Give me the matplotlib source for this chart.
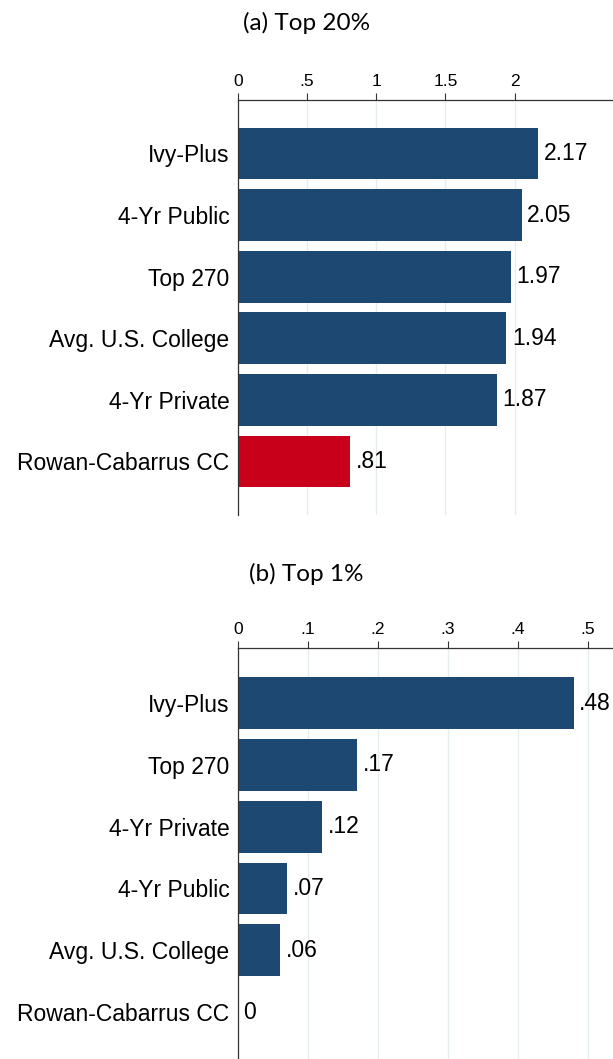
import matplotlib

matplotlib.use("Agg")
import matplotlib.pyplot as plt

# Panel (a): share reaching top 20%
cats_top20 = ["Ivy-Plus", "4-Yr Public", "Top 270", "Avg. U.S. College",
              "4-Yr Private", "Rowan-Cabarrus CC"]
vals_top20 = [2.17, 2.05, 1.97, 1.94, 1.87, 0.81]
ticks_top20 = [0, 0.5, 1, 1.5, 2]

# Panel (b): share reaching top 1%
cats_top1 = ["Ivy-Plus", "Top 270", "4-Yr Private", "4-Yr Public",
             "Avg. U.S. College", "Rowan-Cabarrus CC"]
vals_top1 = [0.48, 0.17, 0.12, 0.07, 0.06, 0.0]
ticks_top1 = [0, 0.1, 0.2, 0.3, 0.4, 0.5]

NAVY = "#1D4871"
RED = "#C80019"
GRID = "#E6EDF1"

plt.rcParams["font.family"] = ["Liberation Sans", "DejaVu Sans"]


def stata_fmt(v):
    """Formato estilo Stata: sin cero inicial (.81, 0)."""
    if v == 0:
        return "0"
    s = f"{v:.2f}".rstrip("0").rstrip(".")
    return s[1:] if s.startswith("0.") else s


def panel(ax, cats, vals, ticks, xmax, highlight):
    y = list(range(len(cats)))
    colors = [RED if c == highlight and v > 0 else NAVY for c, v in zip(cats, vals)]
    ax.barh(y, vals, height=0.84, color=colors, zorder=2)
    for yi, v in zip(y, vals):
        ax.annotate(stata_fmt(v), (v, yi), xytext=(4, 0), textcoords="offset points",
                    va="center", ha="left", fontsize=16.5)
    ax.set_yticks(y)
    ax.set_yticklabels(cats, fontsize=16.5)
    ax.tick_params(axis="y", length=0, pad=6)
    ax.set_xlim(0, xmax)
    ax.xaxis.tick_top()
    ax.set_xticks(ticks)
    ax.set_xticklabels([stata_fmt(t) for t in ticks], fontsize=12.5)
    ax.tick_params(axis="x", direction="out", length=5, width=0.8, pad=3,
                   color="#333333")
    ax.grid(axis="x", color=GRID, lw=1, zorder=0)
    for s in ("right", "bottom"):
        ax.spines[s].set_visible(False)
    for s in ("top", "left"):
        ax.spines[s].set_color("#333333")
        ax.spines[s].set_linewidth(0.9)


fig = plt.figure(figsize=(6.13, 10.59), dpi=100)

ax1 = fig.add_axes([0.388, 0.5137, 0.612, 0.392])
panel(ax1, cats_top20, vals_top20, ticks_top20, 2.71, "Rowan-Cabarrus CC")
ax1.set_ylim(5.87, -0.87)

ax2 = fig.add_axes([0.388, 0.0, 0.612, 0.388])
panel(ax2, cats_top1, vals_top1, ticks_top1, 0.536, "Rowan-Cabarrus CC")
ax2.set_ylim(5.76, -0.89)

fig.text(0.5, 0.978, "(a) Top 20%", ha="center", va="center", fontsize=17.5,
         family=["Lato", "DejaVu Sans"])
fig.text(0.5, 0.458, "(b) Top 1%", ha="center", va="center", fontsize=17.5,
         family=["Lato", "DejaVu Sans"])

fig.savefig("out.png", dpi=100)
